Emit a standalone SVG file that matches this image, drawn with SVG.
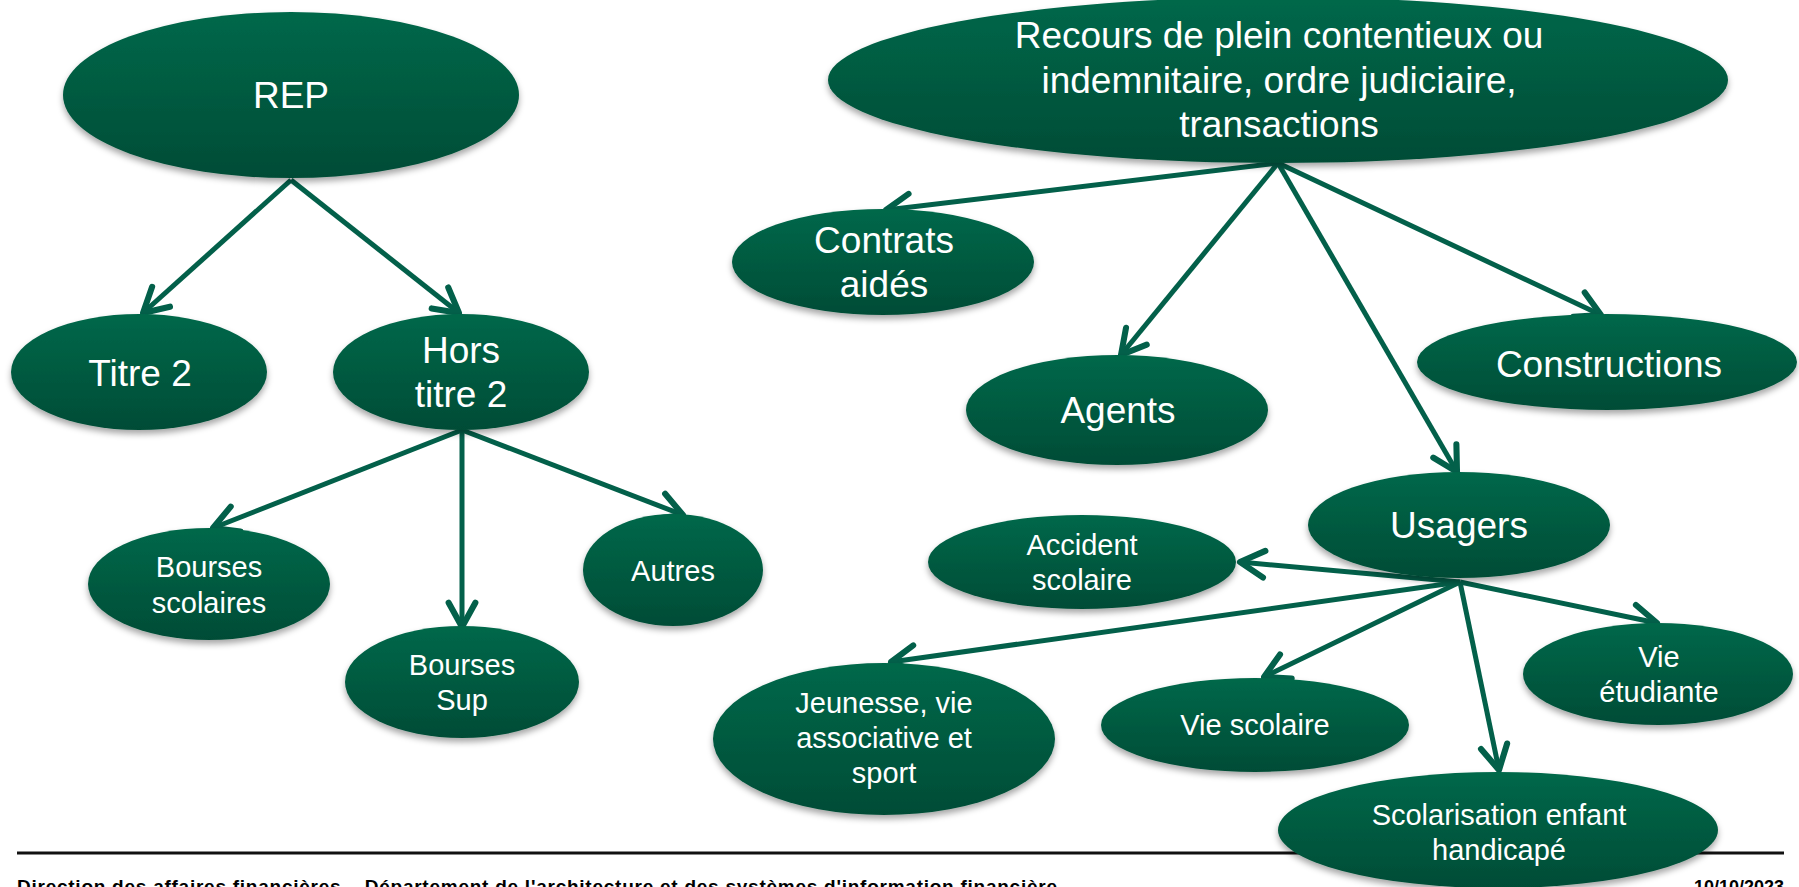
<svg xmlns="http://www.w3.org/2000/svg" width="1799" height="887" viewBox="0 0 1799 887">
  <defs>
    <linearGradient id="g" x1="0" y1="0" x2="0" y2="1">
      <stop offset="0" stop-color="#02684a"/>
      <stop offset="1" stop-color="#014c36"/>
    </linearGradient>
    <filter id="sh" x="-10%" y="-10%" width="120%" height="130%">
      <feDropShadow dx="0" dy="4" stdDeviation="3" flood-color="#000" flood-opacity="0.35"/>
    </filter>
    <marker id="arr" markerUnits="userSpaceOnUse" markerWidth="34" markerHeight="34" viewBox="-24 -14 28 28" refX="0" refY="0" orient="auto">
      <path d="M-20,-11 L0,0 L-20,11" fill="none" stroke="#03604a" stroke-width="5" stroke-linecap="round" stroke-linejoin="round"/>
    </marker>
    <style>
      .n ellipse { fill: url(#g); filter: url(#sh); }
      .n text { fill: #ffffff; font-family: "Liberation Sans", Arial, sans-serif; text-anchor: middle; }
      .big { font-size: 37px; }
      .sm { font-size: 29px; }
      .c line { stroke: #03604a; stroke-width: 5; marker-end: url(#arr); }
      .foot { font-family: "Liberation Sans", Arial, sans-serif; font-weight: bold; font-size: 19px; fill: #000; }
    </style>
  </defs>
  <rect width="1799" height="887" fill="#ffffff"/>

  <line x1="17" y1="853" x2="1784" y2="853" stroke="#111" stroke-width="3"/>
  <text class="foot" x="17" y="893" textLength="1040" lengthAdjust="spacing">Direction des affaires financières – Département de l'architecture et des systèmes d'information financière</text>
  <text class="foot" x="1784" y="893" text-anchor="end" style="font-size:18px">10/10/2023</text>

  <g class="c" id="connectors">
    <line x1="291" y1="180" x2="143" y2="313"/>
    <line x1="291" y1="180" x2="459" y2="313"/>
    <line x1="462" y1="430" x2="213" y2="528"/>
    <line x1="462" y1="430" x2="462" y2="627"/>
    <line x1="462" y1="430" x2="683" y2="515"/>
    <line x1="1278" y1="163" x2="886" y2="210"/>
    <line x1="1278" y1="163" x2="1121" y2="355"/>
    <line x1="1278" y1="163" x2="1457" y2="472"/>
    <line x1="1278" y1="163" x2="1601" y2="315"/>
    <line x1="1460" y1="582" x2="1240" y2="562"/>
    <line x1="1460" y1="582" x2="891" y2="662"/>
    <line x1="1460" y1="582" x2="1264" y2="677"/>
    <line x1="1460" y1="582" x2="1499" y2="770"/>
    <line x1="1460" y1="582" x2="1657" y2="623"/>
  </g>

  <g class="n" id="rep">
    <ellipse cx="291" cy="95" rx="228" ry="83"/>
    <text class="big" x="291" y="108">REP</text>
  </g>
  <g class="n" id="titre2">
    <ellipse cx="139" cy="372" rx="128" ry="58"/>
    <text class="big" x="140" y="386">Titre 2</text>
  </g>
  <g class="n" id="hors-titre2">
    <ellipse cx="461" cy="372" rx="128" ry="58"/>
    <text class="big" x="461" y="363">Hors</text>
    <text class="big" x="461" y="407">titre 2</text>
  </g>
  <g class="n" id="bourses-scolaires">
    <ellipse cx="209" cy="584" rx="121" ry="56"/>
    <text class="sm" x="209" y="577">Bourses</text>
    <text class="sm" x="209" y="613">scolaires</text>
  </g>
  <g class="n" id="bourses-sup">
    <ellipse cx="462" cy="682" rx="117" ry="56"/>
    <text class="sm" x="462" y="675">Bourses</text>
    <text class="sm" x="462" y="710">Sup</text>
  </g>
  <g class="n" id="autres">
    <ellipse cx="673" cy="570" rx="90" ry="56"/>
    <text class="sm" x="673" y="581">Autres</text>
  </g>
  <g class="n" id="recours">
    <ellipse cx="1278" cy="80" rx="450" ry="83"/>
    <text class="big" x="1279" y="48">Recours de plein contentieux ou</text>
    <text class="big" x="1279" y="93">indemnitaire, ordre judiciaire,</text>
    <text class="big" x="1279" y="137">transactions</text>
  </g>
  <g class="n" id="contrats-aides">
    <ellipse cx="883" cy="262" rx="151" ry="53"/>
    <text class="big" x="884" y="253">Contrats</text>
    <text class="big" x="884" y="297">aidés</text>
  </g>
  <g class="n" id="agents">
    <ellipse cx="1117" cy="410" rx="151" ry="55"/>
    <text class="big" x="1118" y="423">Agents</text>
  </g>
  <g class="n" id="constructions">
    <ellipse cx="1607" cy="362" rx="190" ry="48"/>
    <text class="big" x="1609" y="377">Constructions</text>
  </g>
  <g class="n" id="usagers">
    <ellipse cx="1459" cy="525" rx="151" ry="53"/>
    <text class="big" x="1459" y="538">Usagers</text>
  </g>
  <g class="n" id="accident-scolaire">
    <ellipse cx="1082" cy="562" rx="154" ry="47"/>
    <text class="sm" x="1082" y="555">Accident</text>
    <text class="sm" x="1082" y="590">scolaire</text>
  </g>
  <g class="n" id="jeunesse">
    <ellipse cx="884" cy="739" rx="171" ry="76"/>
    <text class="sm" x="884" y="713">Jeunesse, vie</text>
    <text class="sm" x="884" y="748">associative et</text>
    <text class="sm" x="884" y="783">sport</text>
  </g>
  <g class="n" id="vie-scolaire">
    <ellipse cx="1255" cy="725" rx="154" ry="47"/>
    <text class="sm" x="1255" y="735">Vie scolaire</text>
  </g>
  <g class="n" id="vie-etudiante">
    <ellipse cx="1658" cy="674" rx="135" ry="51"/>
    <text class="sm" x="1659" y="667">Vie</text>
    <text class="sm" x="1659" y="702">étudiante</text>
  </g>
  <g class="n" id="scolarisation">
    <ellipse cx="1498" cy="830" rx="220" ry="58"/>
    <text class="sm" x="1499" y="825">Scolarisation enfant</text>
    <text class="sm" x="1499" y="860">handicapé</text>
  </g>
</svg>
